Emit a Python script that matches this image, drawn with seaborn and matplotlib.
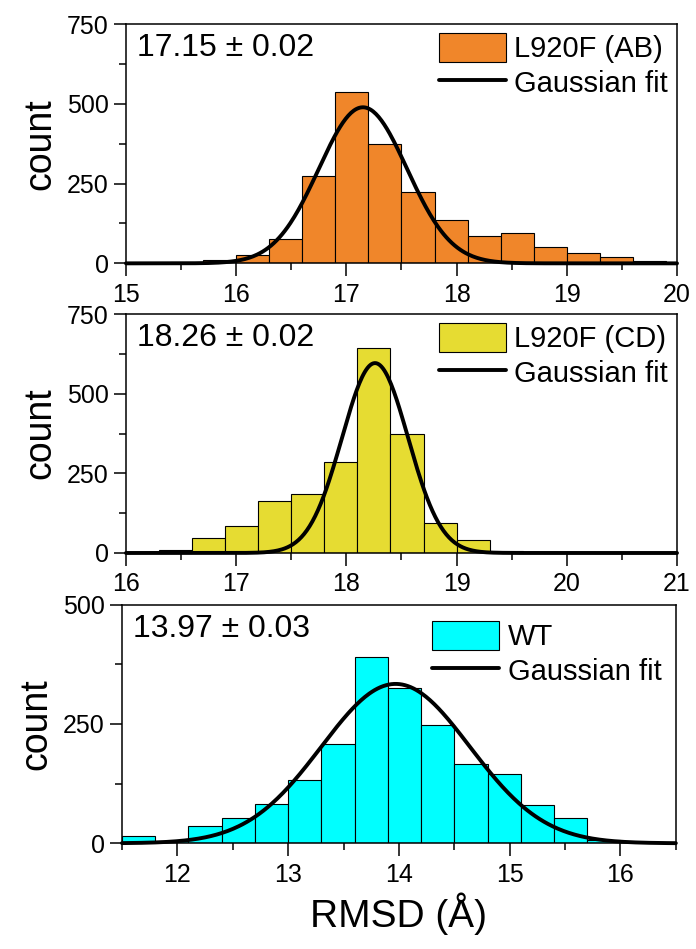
import numpy as np
import pandas as pd
import matplotlib
matplotlib.use("Agg")
import matplotlib.pyplot as plt
from matplotlib.patches import Patch
from matplotlib.lines import Line2D
from matplotlib.ticker import MultipleLocator
import seaborn as sns

sns.set_style("ticks")
plt.rcParams['font.family'] = ['Liberation Sans', 'DejaVu Sans']
plt.rcParams.update({'text.color': 'black', 'axes.labelcolor': 'black',
                     'axes.edgecolor': 'black', 'xtick.color': 'black', 'ytick.color': 'black'})

# histogram bins (lower edges, width 0.3) and counts
ab_edges = [15.4, 15.7, 16.0, 16.3, 16.6, 16.9, 17.2, 17.5, 17.8, 18.1, 18.4, 18.7, 19.0, 19.3, 19.6, 19.9]
ab_counts = [4, 10, 25, 75, 274, 538, 375, 224, 135, 86, 94, 52, 32, 19, 8]

cd_edges = [16.3, 16.6, 16.9, 17.2, 17.5, 17.8, 18.1, 18.4, 18.7, 19.0, 19.3, 19.6]
cd_counts = [8, 47, 84, 162, 185, 284, 643, 373, 94, 42, 6]

wt_edges = [11.5, 11.8, 12.1, 12.4, 12.7, 13.0, 13.3, 13.6, 13.9, 14.2, 14.5, 14.8, 15.1, 15.4, 15.7, 16.0]
wt_counts = [16, 5, 36, 52, 83, 133, 208, 390, 326, 247, 166, 145, 80, 54, 6]

# gaussian fit parameters (mean, sigma, amplitude)
ab_fit = (17.15, 0.40, 489)
cd_fit = (18.26, 0.30, 596)
wt_fit = (13.97, 0.67, 334)

panels = [
    dict(edges=ab_edges, counts=ab_counts, fit=ab_fit, color='#F0862A', label='L920F (AB)',
         text='17.15 ± 0.02', xlim=(15, 20), ylim=(0, 750), yt=[0, 250, 500, 750],
         pos=[0.181, 0.7225, 0.7917, 0.2522], leg=(1.0, 1.0)),
    dict(edges=cd_edges, counts=cd_counts, fit=cd_fit, color='#E6DC32', label='L920F (CD)',
         text='18.26 ± 0.02', xlim=(16, 21), ylim=(0, 750), yt=[0, 250, 500, 750],
         pos=[0.181, 0.4173, 0.7917, 0.2518], leg=(1.0, 1.0)),
    dict(edges=wt_edges, counts=wt_counts, fit=wt_fit, color='#00FFFF', label='WT',
         text='13.97 ± 0.03', xlim=(11.5, 16.5), ylim=(0, 500), yt=[0, 250, 500],
         pos=[0.1753, 0.1114, 0.7957, 0.2514], leg=(0.99, 0.97)),
]

fig = plt.figure(figsize=(6.96, 9.49), dpi=100)

for i, p in enumerate(panels):
    ax = fig.add_axes(p['pos'])
    edges = list(p['edges'])
    centers = [(a + b) / 2 for a, b in zip(edges[:-1], edges[1:])]
    df = pd.DataFrame({'rmsd': centers, 'count': p['counts']})
    sns.histplot(data=df, x='rmsd', weights='count', bins=edges, color=p['color'], alpha=1,
                 edgecolor='black', linewidth=0.8, ax=ax)
    mu, sig, amp = p['fit']
    xs = np.linspace(p['xlim'][0], p['xlim'][1], 400)
    ys = amp * np.exp(-(xs - mu) ** 2 / (2 * sig ** 2))
    sns.lineplot(x=xs, y=ys, color='black', linewidth=2.8, ax=ax, clip_on=False)

    ax.set_xlim(*p['xlim'])
    ax.set_ylim(*p['ylim'])
    ax.set_yticks(p['yt'])
    ax.yaxis.set_minor_locator(MultipleLocator(125))
    ax.xaxis.set_major_locator(MultipleLocator(1))
    ax.xaxis.set_minor_locator(MultipleLocator(0.5))
    ax.tick_params(which='major', length=9, width=1.1, labelsize=18, direction='out')
    ax.tick_params(which='minor', length=5, width=1.1, direction='out')
    ax.tick_params(axis='x', pad=5)
    for s in ax.spines.values():
        s.set_linewidth(1.1)
    ax.set_ylabel('count', fontsize=27, labelpad=6)
    if i == 2:
        ax.set_xlabel('RMSD (Å)', fontsize=28, labelpad=4)
    else:
        ax.set_xlabel('')

    ax.text(0.02, 0.90, p['text'], transform=ax.transAxes, fontsize=23,
            ha='left', va='center')
    handles = [Patch(facecolor=p['color'], edgecolor='black', linewidth=0.8),
               Line2D([0], [0], color='black', linewidth=2.8)]
    ax.legend(handles, [p['label'], 'Gaussian fit'], loc='upper right', frameon=False,
              bbox_to_anchor=p['leg'],
              fontsize=21, handlelength=2.3, handleheight=1.15, handletextpad=0.3,
              labelspacing=0.15, borderaxespad=0.1, borderpad=0.2)

fig.savefig('out.png', dpi=100)
